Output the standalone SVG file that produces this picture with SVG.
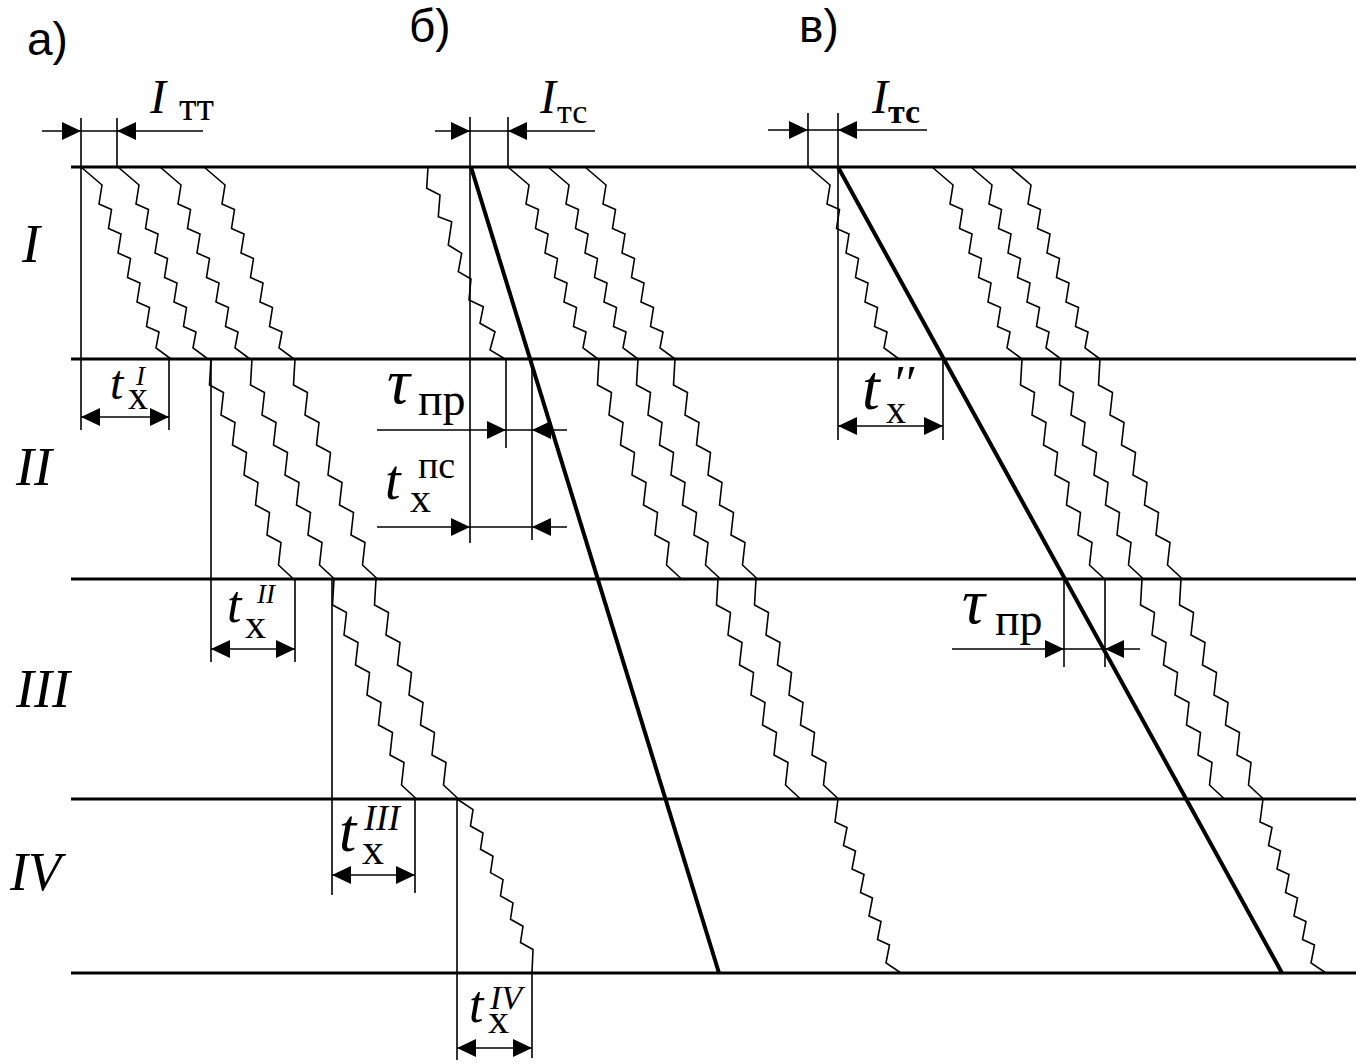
<svg xmlns="http://www.w3.org/2000/svg" xmlns:xlink="http://www.w3.org/1999/xlink" width="1361" height="1064" viewBox="0 0 1361 1064">
<style>
.bg{fill:#fff}
.ax{stroke:#000;stroke-width:3;fill:none}
.th{stroke:#000;stroke-width:1.6;fill:none}
.hv{stroke:#000;stroke-width:4;fill:none}
.wv{stroke:#000;stroke-width:1.6;fill:none;stroke-linejoin:miter}
.ah{fill:#000}
.lab{font-family:"Liberation Sans",Arial,sans-serif;font-size:46px;fill:#000}
.rom{font-family:"Liberation Serif","Times New Roman",serif;font-style:italic;font-size:54px;fill:#000}
.sym{font-family:"Liberation Serif","Times New Roman",serif;fill:#000}
.it{font-style:italic}
.up{font-style:normal}
</style>
<defs>
<path id="s1" class="wv" d="M0,0 l21,18 l-3,19 l12.5,5.5 l-3,19 l12.5,5.5 l-3,19 l12.5,5.5 l-3,19 l12.5,5.5 l-3,19 l12.5,5.5 l-3,19 l12.5,5.5 l-3,16 l15,11"/>
<path id="s23" class="wv" d="M0,0 l-1.5,26 l14,7.5 l-2.5,22.5 l14,7.5 l-2.5,22.5 l14,7.5 l-2.5,22.5 l14,7.5 l-2.5,22.5 l14,7.5 l-2.5,22.5 l14,7.5 l-2.5,22.5 l15,14"/>
<path id="s4a" class="wv" d="M0,0 l16,10.7 l-2.5,16.3 l12.5,7 l-2.5,16.3 l12.5,7 l-2.5,16.3 l12.5,7 l-2.5,16.3 l12.5,7 l-2.5,16.3 l12.5,7 l-2.5,16.3 l12.5,7 l-1,23"/>
<path id="s4b" class="wv" d="M0,0 l-3,23 l12,5.5 l-3.5,18 l12,5.5 l-3.5,18 l12,5.5 l-3.5,18 l12,5.5 l-3.5,18 l12,5.5 l-3.5,18 l12,5.5 l-3.5,18 l15,10"/>
<path id="ah" class="ah" d="M0,0 L-19,-9 L-19,9 Z"/>
</defs>
<rect class="bg" x="0" y="0" width="1361" height="1064"/>

<g id="section-lines">
<line class="ax" x1="71" y1="167" x2="1356" y2="167"/>
<line class="ax" x1="71" y1="359" x2="1356" y2="359"/>
<line class="ax" x1="71" y1="579" x2="1356" y2="579"/>
<line class="ax" x1="71" y1="799" x2="1356" y2="799"/>
<line class="ax" x1="71" y1="973" x2="1356" y2="973"/>
</g>

<g id="labels">
<text class="lab" x="27" y="55">а)</text>
<text class="lab" x="409" y="42">б)</text>
<text class="lab" x="799" y="42">в)</text>
<text class="rom" x="22" y="262">I</text>
<text class="rom" x="16" y="485">II</text>
<text class="rom" x="16" y="707">III</text>
<text class="rom" x="10" y="890">IV</text>
</g>

<g id="part-a">
<g id="a-waves">
<use xlink:href="#s1" href="#s1" x="81" y="167"/>
<use xlink:href="#s1" href="#s1" x="118" y="167"/>
<use xlink:href="#s1" href="#s1" x="160" y="167"/>
<use xlink:href="#s1" href="#s1" x="204" y="167"/>
<use xlink:href="#s23" href="#s23" x="211" y="359"/>
<use xlink:href="#s23" href="#s23" x="252" y="359"/>
<use xlink:href="#s23" href="#s23" x="295" y="359"/>
<use xlink:href="#s23" href="#s23" x="334" y="579"/>
<use xlink:href="#s23" href="#s23" x="376" y="579"/>
<use xlink:href="#s4a" href="#s4a" x="457" y="799"/>
</g>
<g id="a-dims">
<line class="th" x1="81" y1="118" x2="81" y2="430"/>
<line class="th" x1="117" y1="118" x2="117" y2="167"/>
<line class="th" x1="169" y1="359" x2="169" y2="430"/>
<line class="th" x1="211" y1="359" x2="211" y2="662"/>
<line class="th" x1="295" y1="579" x2="295" y2="662"/>
<line class="th" x1="332" y1="579" x2="332" y2="895"/>
<line class="th" x1="415" y1="799" x2="415" y2="893"/>
<line class="th" x1="457" y1="799" x2="457" y2="1060"/>
<line class="th" x1="532" y1="973" x2="532" y2="1058"/>
<line class="th" x1="42" y1="131" x2="203" y2="131"/>
<line class="th" x1="81" y1="417" x2="169" y2="417"/>
<line class="th" x1="211" y1="649" x2="295" y2="649"/>
<line class="th" x1="332" y1="875" x2="415" y2="875"/>
<line class="th" x1="457" y1="1048" x2="532" y2="1048"/>
<use xlink:href="#ah" href="#ah" transform="translate(81,131)"/>
<use xlink:href="#ah" href="#ah" transform="translate(117,131) rotate(180)"/>
<use xlink:href="#ah" href="#ah" transform="translate(81,417) rotate(180)"/>
<use xlink:href="#ah" href="#ah" transform="translate(169,417)"/>
<use xlink:href="#ah" href="#ah" transform="translate(211,649) rotate(180)"/>
<use xlink:href="#ah" href="#ah" transform="translate(295,649)"/>
<use xlink:href="#ah" href="#ah" transform="translate(332,875) rotate(180)"/>
<use xlink:href="#ah" href="#ah" transform="translate(415,875)"/>
<use xlink:href="#ah" href="#ah" transform="translate(457,1048) rotate(180)"/>
<use xlink:href="#ah" href="#ah" transform="translate(532,1048)"/>
</g>
<g id="a-texts">
<text class="sym"><tspan class="it" x="150" y="113" font-size="48">I</tspan><tspan class="up" x="179" y="120" font-size="40">тт</tspan></text>
<text class="sym"><tspan class="it" x="110" y="399" font-size="48">t</tspan><tspan class="up" x="128" y="409" font-size="40">х</tspan><tspan class="it" x="136" y="385" font-size="27">I</tspan></text>
<text class="sym"><tspan class="it" x="227" y="622" font-size="52">t</tspan><tspan class="up" x="245" y="638" font-size="42">х</tspan><tspan class="it" x="257" y="603" font-size="27">II</tspan></text>
<text class="sym"><tspan class="it" x="339" y="851" font-size="62">t</tspan><tspan class="up" x="362" y="864" font-size="44">х</tspan><tspan class="it" x="364" y="830" font-size="36">III</tspan></text>
<text class="sym"><tspan class="it" x="469" y="1022" font-size="52">t</tspan><tspan class="up" x="488" y="1033" font-size="42">х</tspan><tspan class="it" x="490" y="1009" font-size="34">IV</tspan></text>
</g>
</g>

<g id="part-b">
<g id="b-waves">
<path class="wv" d="M428,167 L426.7,188.3 L440,195 L438.3,216.7 L451.7,221.7 L448.3,245 L461.7,253.3 L458.3,271.7 L471,279 L469,300 L483.3,306.7 L480,323.3 L495,331.7 L490,350 L505,359"/>
<use xlink:href="#s1" href="#s1" x="508" y="167"/>
<use xlink:href="#s1" href="#s1" x="548" y="167"/>
<use xlink:href="#s1" href="#s1" x="585" y="167"/>
<use xlink:href="#s23" href="#s23" x="599" y="359"/>
<use xlink:href="#s23" href="#s23" x="638" y="359"/>
<use xlink:href="#s23" href="#s23" x="675" y="359"/>
<use xlink:href="#s23" href="#s23" x="718" y="579"/>
<use xlink:href="#s23" href="#s23" x="756" y="579"/>
<use xlink:href="#s4b" href="#s4b" x="838" y="799"/>
</g>
<line class="hv" x1="471" y1="167" x2="719" y2="973"/>
<g id="b-dims">
<line class="th" x1="470" y1="117" x2="470" y2="543"/>
<line class="th" x1="508" y1="117" x2="508" y2="167"/>
<line class="th" x1="506" y1="359" x2="506" y2="448"/>
<line class="th" x1="532" y1="359" x2="532" y2="540"/>
<line class="th" x1="435" y1="131" x2="595" y2="131"/>
<line class="th" x1="377" y1="430" x2="567" y2="430"/>
<line class="th" x1="377" y1="527" x2="567" y2="527"/>
<use xlink:href="#ah" href="#ah" transform="translate(470,131)"/>
<use xlink:href="#ah" href="#ah" transform="translate(508,131) rotate(180)"/>
<use xlink:href="#ah" href="#ah" transform="translate(506,430)"/>
<use xlink:href="#ah" href="#ah" transform="translate(532,430) rotate(180)"/>
<use xlink:href="#ah" href="#ah" transform="translate(470,527)"/>
<use xlink:href="#ah" href="#ah" transform="translate(532,527) rotate(180)"/>
</g>
<g id="b-texts">
<text class="sym"><tspan class="it" x="540" y="113" font-size="48">I</tspan><tspan class="up" x="557" y="123" font-size="34">тс</tspan></text>
<text class="sym"><tspan class="it" x="387" y="403" font-size="64">τ</tspan><tspan class="up" x="418" y="415" font-size="46">пр</tspan></text>
<text class="sym"><tspan class="it" x="385" y="499" font-size="56">t</tspan><tspan class="up" x="410" y="512" font-size="42">х</tspan><tspan class="up" x="418" y="478" font-size="38">пс</tspan></text>
</g>
</g>

<g id="part-c">
<g id="c-waves">
<use xlink:href="#s1" href="#s1" x="809" y="167"/>
<use xlink:href="#s1" href="#s1" x="932" y="167"/>
<use xlink:href="#s1" href="#s1" x="971" y="167"/>
<use xlink:href="#s1" href="#s1" x="1010" y="167"/>
<use xlink:href="#s23" href="#s23" x="1022" y="359"/>
<use xlink:href="#s23" href="#s23" x="1061" y="359"/>
<use xlink:href="#s23" href="#s23" x="1100" y="359"/>
<use xlink:href="#s23" href="#s23" x="1142" y="579"/>
<use xlink:href="#s23" href="#s23" x="1181" y="579"/>
<use xlink:href="#s4b" href="#s4b" x="1263" y="799"/>
</g>
<line class="hv" x1="838" y1="167" x2="1282" y2="973"/>
<g id="c-dims">
<line class="th" x1="808" y1="113" x2="808" y2="167"/>
<line class="th" x1="838" y1="113" x2="838" y2="440"/>
<line class="th" x1="943" y1="359" x2="943" y2="440"/>
<line class="th" x1="1064" y1="579" x2="1064" y2="667"/>
<line class="th" x1="1105" y1="579" x2="1105" y2="667"/>
<line class="th" x1="768" y1="130" x2="927" y2="130"/>
<line class="th" x1="838" y1="426" x2="943" y2="426"/>
<line class="th" x1="952" y1="649" x2="1140" y2="649"/>
<use xlink:href="#ah" href="#ah" transform="translate(808,130)"/>
<use xlink:href="#ah" href="#ah" transform="translate(838,130) rotate(180)"/>
<use xlink:href="#ah" href="#ah" transform="translate(838,426) rotate(180)"/>
<use xlink:href="#ah" href="#ah" transform="translate(943,426)"/>
<use xlink:href="#ah" href="#ah" transform="translate(1064,649)"/>
<use xlink:href="#ah" href="#ah" transform="translate(1105,649) rotate(180)"/>
</g>
<g id="c-texts">
<text class="sym"><tspan class="it" x="872" y="113" font-size="48">I</tspan><tspan class="up" x="888" y="123" font-size="34" font-weight="bold">тс</tspan></text>
<text class="sym"><tspan class="it" x="862" y="409" font-size="64">t</tspan><tspan class="up" x="886" y="423" font-size="40">х</tspan><tspan class="it" x="892" y="400" font-size="50">′′</tspan></text>
<text class="sym"><tspan class="it" x="962" y="623" font-size="64">τ</tspan><tspan class="up" x="995" y="635" font-size="46">пр</tspan></text>
</g>
</g>
</svg>
